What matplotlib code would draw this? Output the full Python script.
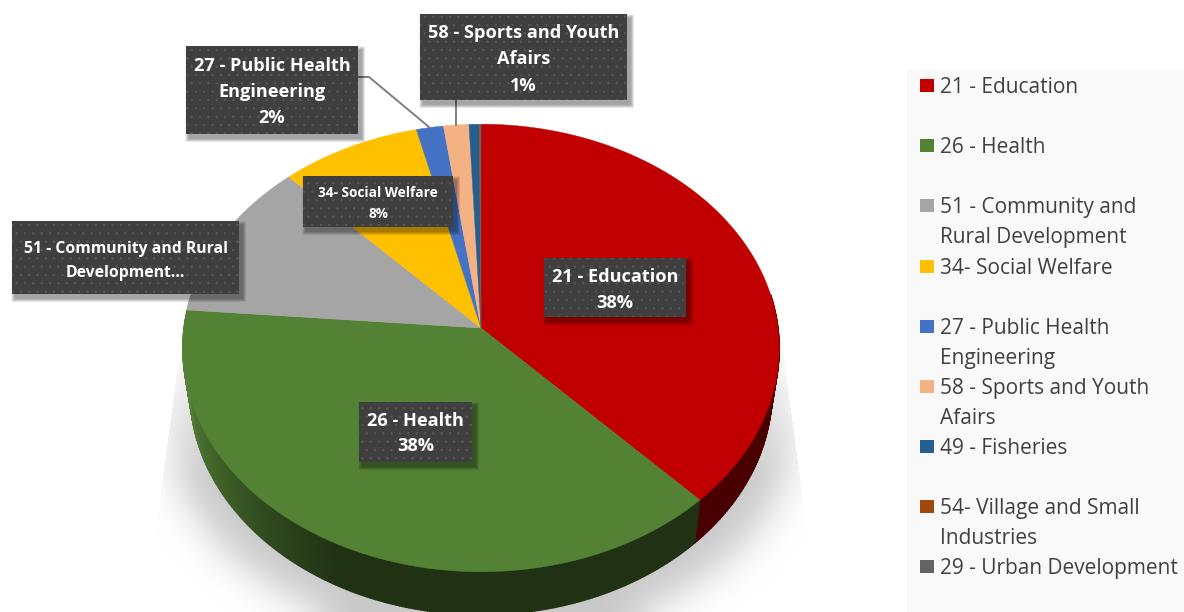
import numpy as np
import matplotlib
matplotlib.use('Agg')
import matplotlib.pyplot as plt
from matplotlib.patches import Rectangle, Polygon
from matplotlib.collections import PolyCollection
from matplotlib.colors import to_rgb

# pie data (percent)
names = ['21 - Education', '26 - Health', '51 - Community and\nRural Development',
         '34- Social Welfare', '27 - Public Health\nEngineering', '58 - Sports and Youth\nAfairs',
         '49 - Fisheries', '54- Village and Small\nIndustries', '29 - Urban Development']
values = [37.9, 38.4, 11.6, 8.3, 1.6, 1.5, 0.6, 0.05, 0.05]
colors = ['#c00000', '#548235', '#a5a5a5', '#ffc000', '#4472c4', '#f4b183', '#255e91', '#9e480e', '#636363']
legend_y = [85, 145, 205, 266, 326, 386, 446, 506, 566]

# data labels: text, box (x0, y0, x1, y1), font size, line spacing, text shift
label_text = ['21 - Education\n38%', '26 - Health\n38%', '51 - Community and Rural\nDevelopment…',
              '34- Social Welfare\n8%', '27 - Public Health\nEngineering\n2%', '58 - Sports and Youth\nAfairs\n1%']
label_box = [(544, 258, 686, 317), (359, 402, 472, 462), (12, 221, 239, 294),
             (303, 176, 453, 227), (186, 46, 358, 134), (420, 14, 627, 100)]
label_size = [13.1, 13.1, 11.3, 9.8, 13.1, 13.1]
label_gap = [1.58, 1.55, 1.62, 1.6, 1.54, 1.6]
label_shift = [2.5, 1.5, 3.5, 2, 2, 2.5]

# pie geometry, pixels
cx, cy = 481, 328
R, S, k = 297, 222, 0.0893
depth, shrink = 43, 0.976

fig = plt.figure(figsize=(11.84, 6.12), dpi=100)
ax = fig.add_axes([0, 0, 1, 1])
plt.rcParams['font.family'] = ['Open Sans', 'DejaVu Sans']
plt.rcParams['hatch.linewidth'] = 0.5


def top_xy(theta):
    x, y = np.sin(theta), np.cos(theta)
    w = 1 + k * y
    return cx + R * x / w, cy - S * y / w


def bot_xy(theta):
    X, Y = top_xy(theta)
    return cx + shrink * (X - cx), Y + depth


# shadow under the pie: blurred ellipse cut by a sharp trapezoid
H, W = 612, 1184
yy, xx = np.mgrid[0:H, 0:W]
mask = (((xx - cx) / 310.0) ** 2 + ((yy - 430) / 210.0) ** 2 < 1).astype(float)
mask = np.pad(mask, 60, mode='edge')
for n in range(3):
    for axis in (0, 1):
        mask = np.apply_along_axis(lambda m: np.convolve(m, np.ones(37) / 37, mode='same'), axis, mask)
mask = mask[60:-60, 60:-60]
mask[np.abs(xx - cx) > 296 + 0.135 * (yy - 310)] = 0
mask[yy < 300] = 0
shadow = np.zeros((H, W, 4))
shadow[..., :3] = 0.79
shadow[..., 3] = mask * np.clip(0.15 + (yy - 310) / 200.0, 0, 1)
ax.imshow(shadow, extent=(0, W, H, 0), aspect='auto', zorder=1)
ax.set_xlim(0, 1184)
ax.set_ylim(612, 0)
ax.axis('off')

edges = np.cumsum([0] + values) / sum(values) * 2 * np.pi

# side wall, lighter towards the left end of the green slice
quads, qcol = [], []
for i, c in enumerate(colors):
    ts = np.arange(edges[i], edges[i + 1], 0.01)
    ts = np.append(ts, edges[i + 1])
    rgb = np.array(to_rgb(c))
    for a, b in zip(ts[:-1], ts[1:]):
        if np.cos((a + b) / 2) > 0.15:
            continue
        xa, ya = top_xy(a)
        xb, yb = top_xy(b)
        xc, yc = bot_xy(b)
        xd, yd = bot_xy(a)
        quads.append([(xa, ya), (xb, yb), (xc, yc), (xd, yd)])
        qcol.append(rgb * (0.38 + 0.66 * np.clip(a - 3.6, 0, 1)))
ax.add_collection(PolyCollection(quads, facecolors=qcol, edgecolors=qcol, linewidths=1.0, zorder=2))

# top face
for i, c in enumerate(colors):
    ts = np.linspace(edges[i], edges[i + 1], 200)
    X, Y = top_xy(ts)
    ax.add_patch(Polygon(np.column_stack([np.r_[cx, X], np.r_[cy, Y]]), closed=True,
                         facecolor=c, edgecolor=c, linewidth=0.3, zorder=3))

# leader lines
ax.plot([358, 369, 429], [77, 77, 127], color='#7f7f7f', lw=1.4, zorder=4)
ax.plot([456, 456], [100, 125], color='#7f7f7f', lw=1.4, zorder=4)

# data labels
for txt, box, fs, gap, dy in zip(label_text, label_box, label_size, label_gap, label_shift):
    x0, y0, x1, y1 = box
    for g in range(8, 0, -1):
        ax.add_patch(Rectangle((x0 + 3 - g / 2, y0 + 4 - g / 2), x1 - x0 + g, y1 - y0 + g,
                               facecolor='k', edgecolor='none', alpha=0.05, zorder=5))
    ax.add_patch(Rectangle((x0, y0), x1 - x0, y1 - y0, facecolor='#3f3f3f', edgecolor='none', zorder=6))
    ax.add_patch(Rectangle((x0, y0), x1 - x0, y1 - y0, facecolor='none', edgecolor='#585858',
                           hatch='..', linewidth=0, zorder=6))
    ax.text((x0 + x1) / 2, (y0 + y1) / 2 + dy, txt, color='white', fontweight='bold', fontsize=fs,
            ha='center', va='center', linespacing=gap, zorder=7)

# legend
ax.add_patch(Rectangle((907, 70), 277, 542, facecolor='#f9f9f9', edgecolor='none', zorder=1))
for name, c, y in zip(names, colors, legend_y):
    ax.add_patch(Rectangle((920, y - 6.5), 14, 13, facecolor=c, edgecolor='none', zorder=2))
    ax.text(940, y - 8, name, color='#404040', fontsize=15.05, ha='left', va='top',
            linespacing=1.55, zorder=3)

plt.savefig('out.png', dpi=100)
